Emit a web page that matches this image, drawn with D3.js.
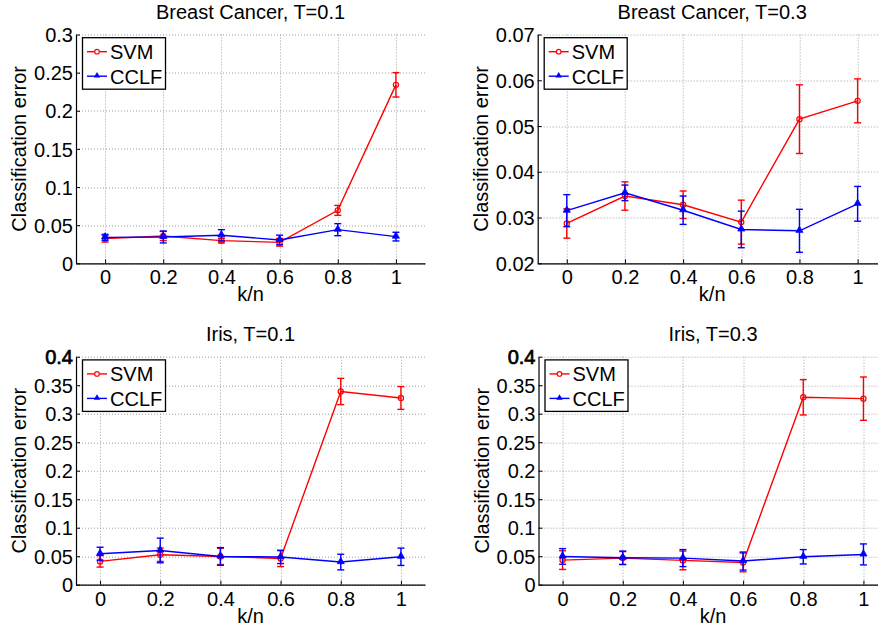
<!DOCTYPE html>
<html><head><meta charset="utf-8">
<script src="https://cdn.jsdelivr.net/npm/d3@7/dist/d3.min.js"></script>
<style>
body{margin:0;background:#fff;}
text{font-family:"Liberation Sans",Arial,Helvetica,sans-serif;fill:#000;}
</style>
</head><body>
<svg id="chart" width="878" height="630"></svg>
<script>
// ---- data ----
const kn = [0, 0.2, 0.4, 0.6, 0.8, 1];
const xTickLabels = ["0", "0.2", "0.4", "0.6", "0.8", "1"];
const seriesNames = ["SVM", "CCLF"];
const titles = ["Breast Cancer, T=0.1", "Breast Cancer, T=0.3", "Iris, T=0.1", "Iris, T=0.3"];

const bc01Svm     = [0.0323, 0.0358, 0.0297, 0.0275, 0.0694, 0.234];
const bc01SvmErr  = [0.0045, 0.0060, 0.0030, 0.0050, 0.0065, 0.016];
const bc01Cclf    = [0.0340, 0.0345, 0.0367, 0.0306, 0.0441, 0.0350];
const bc01CclfErr = [0.0040, 0.0078, 0.0074, 0.0063, 0.0079, 0.0057];

const bc03Svm     = [0.0287, 0.0347, 0.0328, 0.0290, 0.0515, 0.0555];
const bc03SvmErr  = [0.0032, 0.0031, 0.0030, 0.0048, 0.0075, 0.0048];
const bc03Cclf    = [0.0315, 0.0354, 0.0316, 0.0274, 0.0271, 0.0330];
const bc03CclfErr = [0.0035, 0.0017, 0.0031, 0.0040, 0.0047, 0.0038];

const ir01Svm     = [0.0409, 0.0526, 0.0496, 0.0461, 0.339, 0.3276];
const ir01SvmErr  = [0.0100, 0.0117, 0.0143, 0.0143, 0.023, 0.020];
const ir01Cclf    = [0.0543, 0.0601, 0.0496, 0.0485, 0.0397, 0.0490];
const ir01CclfErr = [0.0114, 0.0216, 0.0155, 0.0114, 0.0137, 0.0152];

const ir03Svm     = [0.0432, 0.0467, 0.0426, 0.0391, 0.3288, 0.3264];
const ir03SvmErr  = [0.0164, 0.0114, 0.0164, 0.0164, 0.031, 0.038];
const ir03Cclf    = [0.0496, 0.0473, 0.0467, 0.0415, 0.0490, 0.0531];
const ir03CclfErr = [0.0137, 0.0117, 0.0149, 0.0158, 0.0126, 0.0184];

const bc01YTicks = [0, 0.05, 0.1, 0.15, 0.2, 0.25, 0.3];
const bc01YLabels = ["0", "0.05", "0.1", "0.15", "0.2", "0.25", "0.3"];
const bc03YTicks = [0.02, 0.03, 0.04, 0.05, 0.06, 0.07];
const bc03YLabels = ["0.02", "0.03", "0.04", "0.05", "0.06", "0.07"];
const irYTicks = [0, 0.05, 0.1, 0.15, 0.2, 0.25, 0.3, 0.35, 0.4];
const irYLabels = ["0", "0.05", "0.1", "0.15", "0.2", "0.25", "0.3", "0.35", "0.4"];

// ---- layout ----
const panels = [
  {title: titles[0], svm: bc01Svm, svmErr: bc01SvmErr, cclf: bc01Cclf, cclfErr: bc01CclfErr,
   yDom: [0, 0.3], yTicks: bc01YTicks, yLabels: bc01YLabels, xDom: [-0.1, 1.1],
   left: 76, top: 34.5, width: 349, height: 228.8, boldTop: false},
  {title: titles[1], svm: bc03Svm, svmErr: bc03SvmErr, cclf: bc03Cclf, cclfErr: bc03CclfErr,
   yDom: [0.02, 0.07], yTicks: bc03YTicks, yLabels: bc03YLabels, xDom: [-0.1, 1.1],
   left: 537.7, top: 34.5, width: 349, height: 228.8, boldTop: false},
  {title: titles[2], svm: ir01Svm, svmErr: ir01SvmErr, cclf: ir01Cclf, cclfErr: ir01CclfErr,
   yDom: [0, 0.4], yTicks: irYTicks, yLabels: irYLabels, xDom: [-0.08, 1.08],
   left: 76, top: 356.7, width: 349, height: 228, boldTop: true},
  {title: titles[3], svm: ir03Svm, svmErr: ir03SvmErr, cclf: ir03Cclf, cclfErr: ir03CclfErr,
   yDom: [0, 0.4], yTicks: irYTicks, yLabels: irYLabels, xDom: [-0.08, 1.08],
   left: 538.5, top: 356.7, width: 349, height: 228, boldTop: true}
];

const RED = "#ff0000", BLUE = "#0000ff";
const FS = 20;
const svg = d3.select("#chart");

panels.forEach(p => {
  const g = svg.append("g").attr("transform", `translate(${p.left},${p.top})`);
  const x = d3.scaleLinear().domain(p.xDom).range([0, p.width]);
  const y = d3.scaleLinear().domain(p.yDom).range([p.height, 0]);

  // grid
  const grid = g.append("g").attr("stroke", "#a0a0a0").attr("stroke-width", 1)
    .attr("stroke-dasharray", "1,2");
  grid.selectAll("line.gx").data(kn).join("line")
    .attr("x1", d => Math.round(x(d)) + 0.5).attr("x2", d => Math.round(x(d)) + 0.5)
    .attr("y1", 0).attr("y2", p.height);
  grid.selectAll("line.gy").data(p.yTicks).join("line")
    .attr("x1", 0).attr("x2", p.width)
    .attr("y1", d => Math.round(y(d)) + 0.5).attr("y2", d => Math.round(y(d)) + 0.5);

  // axes (MATLAB-style inward ticks)
  const xAxis = d3.axisBottom(x).tickValues(kn).tickFormat((d, i) => xTickLabels[i])
    .tickSizeInner(-4).tickSizeOuter(0).tickPadding(7);
  const gx = g.append("g").attr("transform", `translate(0,${p.height})`).call(xAxis);
  const yAxis = d3.axisLeft(y).tickValues(p.yTicks).tickFormat((d, i) => p.yLabels[i])
    .tickSizeInner(-4).tickSizeOuter(0).tickPadding(3);
  const gy = g.append("g").call(yAxis);
  [gx, gy].forEach(a => {
    a.select(".domain").attr("stroke", "#000").attr("stroke-width", 1.2);
    a.selectAll(".tick line").attr("stroke", "#000").attr("stroke-width", 1);
    a.selectAll(".tick text").attr("font-size", FS).attr("fill", "#000")
      .attr("font-family", '"Liberation Sans",Arial,sans-serif');
  });
  gx.selectAll(".tick text").attr("dy", null).attr("y", 21);
  gy.selectAll(".tick text").attr("dy", "0.36em");
  if (p.boldTop) {
    gy.selectAll(".tick text").filter((d, i, n) => i === n.length - 1)
      .attr("stroke", "#000").attr("stroke-width", 0.7);
  }

  // labels
  g.append("text").attr("x", p.width / 2).attr("y", -16).attr("text-anchor", "middle")
    .attr("font-size", FS).text(p.title);
  g.append("text").attr("x", p.width / 2).attr("y", p.height + 38).attr("text-anchor", "middle")
    .attr("font-size", FS).text("k/n");
  g.append("text").attr("transform", `translate(-50,${p.height / 2}) rotate(-90)`)
    .attr("text-anchor", "middle").attr("font-size", FS).text("Classification error");

  // series
  const series = [
    {vals: p.svm, err: p.svmErr, color: RED, marker: "circle"},
    {vals: p.cclf, err: p.cclfErr, color: BLUE, marker: "triangle"}
  ];
  const line = d3.line().x((d, i) => x(kn[i])).y(d => y(d));
  series.forEach(s => {
    const sg = g.append("g");
    sg.append("path").attr("d", line(s.vals)).attr("fill", "none")
      .attr("stroke", s.color).attr("stroke-width", 1.4);
    const eb = sg.selectAll("g.eb").data(s.vals).join("g")
      .attr("stroke", s.color).attr("stroke-width", 1.4);
    eb.append("line").attr("x1", (d, i) => x(kn[i])).attr("x2", (d, i) => x(kn[i]))
      .attr("y1", (d, i) => y(d - s.err[i])).attr("y2", (d, i) => y(d + s.err[i]));
    eb.append("line").attr("x1", (d, i) => x(kn[i]) - 3.5).attr("x2", (d, i) => x(kn[i]) + 3.5)
      .attr("y1", (d, i) => y(d - s.err[i])).attr("y2", (d, i) => y(d - s.err[i]));
    eb.append("line").attr("x1", (d, i) => x(kn[i]) - 3.5).attr("x2", (d, i) => x(kn[i]) + 3.5)
      .attr("y1", (d, i) => y(d + s.err[i])).attr("y2", (d, i) => y(d + s.err[i]));
    if (s.marker === "circle") {
      sg.selectAll("circle").data(s.vals).join("circle")
        .attr("cx", (d, i) => x(kn[i])).attr("cy", d => y(d)).attr("r", 2.6)
        .attr("fill", "none").attr("stroke", s.color).attr("stroke-width", 1.2);
    } else {
      sg.selectAll("path.m").data(s.vals).join("path").attr("class", "m")
        .attr("d", d3.symbol(d3.symbolTriangle, 22)())
        .attr("transform", (d, i) => `translate(${x(kn[i])},${y(d) - 0.5})`)
        .attr("fill", s.color).attr("stroke", s.color).attr("stroke-width", 0.8);
    }
  });

  // legend
  const lg = g.append("g").attr("transform", "translate(6.5,3.2)");
  lg.append("rect").attr("width", 83).attr("height", 51.5).attr("fill", "#fff")
    .attr("stroke", "#000").attr("stroke-width", 1.3);
  [0, 1].forEach(k => {
    const cy = k === 0 ? 14 : 38.5;
    const col = k === 0 ? RED : BLUE;
    lg.append("line").attr("x1", 4.5).attr("x2", 24.5).attr("y1", cy).attr("y2", cy)
      .attr("stroke", col).attr("stroke-width", 1.4);
    if (k === 0) {
      lg.append("circle").attr("cx", 14.5).attr("cy", cy).attr("r", 2.3)
        .attr("fill", "#fff").attr("stroke", col).attr("stroke-width", 1.1);
    } else {
      lg.append("path").attr("d", d3.symbol(d3.symbolTriangle, 18)())
        .attr("transform", `translate(14.5,${cy - 0.5})`).attr("fill", col);
    }
    lg.append("text").attr("x", 27.5).attr("y", cy + 7.5).attr("font-size", FS)
      .text(seriesNames[k]);
  });
});
</script>
</body></html>
